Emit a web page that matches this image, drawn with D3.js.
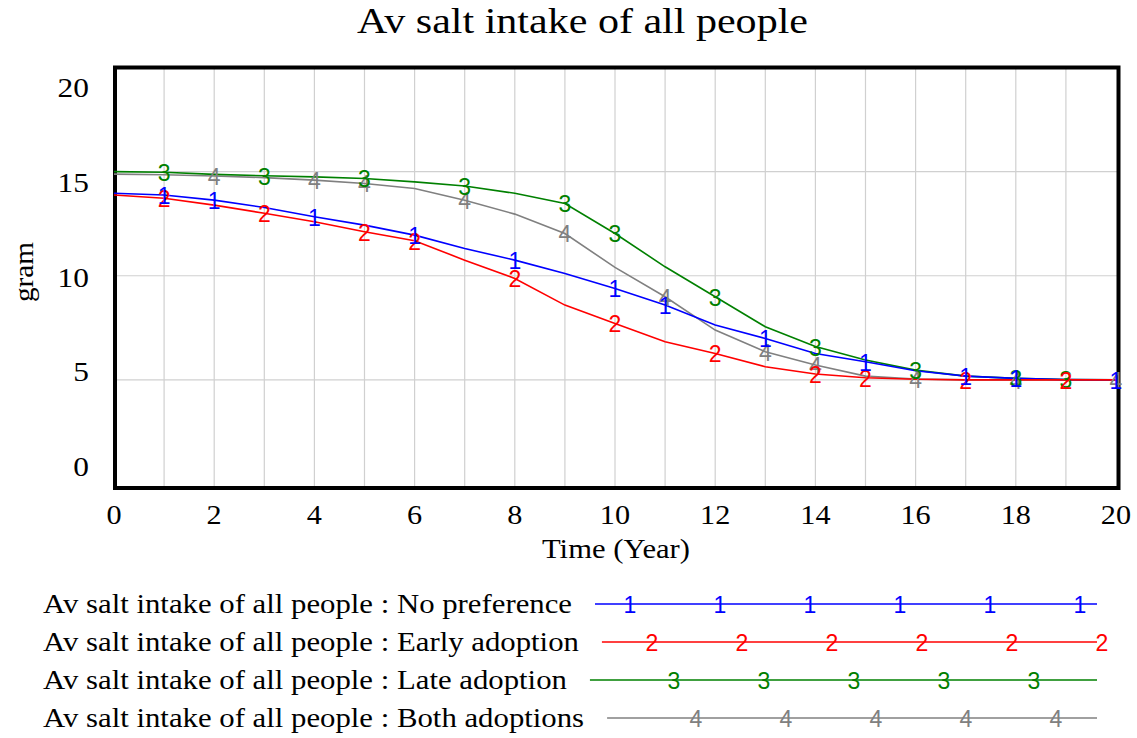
<!DOCTYPE html>
<head>
    <meta charset="utf-8">
    <script src="https://d3js.org/d3.v7.min.js"></script>
    <style>
        body { margin: 0; background: #fff; }
        .serif { font-family: "Liberation Serif", "Times New Roman", Times, serif; fill: #000; }
        .mark { font-family: "Liberation Sans", Arial, sans-serif; }
    </style>
</head>
<body>
    <svg></svg>
    <script>
        // simulated years and the four runs (gram)
        var years = [0, 1, 2, 3, 4, 5, 6, 7, 8, 9, 10, 11, 12, 13, 14, 15, 16, 17, 18, 19, 20];
        var noPreference = [13.96, 13.88, 13.63, 13.28, 12.83, 12.43, 11.95, 11.31, 10.75, 10.11, 9.39,
                            8.59, 7.63, 6.99, 6.27, 5.87, 5.44, 5.18, 5.07, 5.01, 5.0];
        var earlyAdoption = [13.88, 13.72, 13.39, 13.0, 12.59, 12.11, 11.68, 10.75, 9.87, 8.59, 7.71,
                             6.83, 6.27, 5.63, 5.28, 5.1, 5.03, 5.0, 5.0, 5.0, 5.0];
        var lateAdoption = [15.0, 14.97, 14.87, 14.8, 14.75, 14.67, 14.51, 14.31, 13.96, 13.47, 12.03,
                            10.43, 8.99, 7.55, 6.6, 5.95, 5.47, 5.18, 5.07, 5.02, 5.0];
        var bothAdoptions = [14.88, 14.85, 14.79, 14.71, 14.59, 14.43, 14.19, 13.63, 12.96, 12.03, 10.4,
                             8.99, 7.39, 6.35, 5.71, 5.18, 5.04, 5.0, 5.0, 5.0, 5.0];

        // years where the run number is written on the line
        var marksNoPreference = [1, 2, 4, 6, 8, 10, 11, 13, 15, 17, 18, 20];
        var marksEarly = [1, 3, 5, 6, 8, 10, 12, 14, 15, 17, 19];
        var marksLate = [1, 3, 5, 7, 9, 10, 12, 14, 16, 18, 19];
        var marksBoth = [2, 4, 5, 7, 9, 11, 13, 14, 16, 18, 20];

        var runNames = ["No preference", "Early adoption", "Late adoption", "Both adoptions"];
        var runColors = ["#0000ff", "#ff0000", "#008000", "#808080"];
        var xTicks = [0, 2, 4, 6, 8, 10, 12, 14, 16, 18, 20];
        var yTicks = [0, 5, 10, 15, 20];
        var varName = "Av salt intake of all people";

        var runs = [
            { id: 1, name: runNames[0], color: runColors[0], values: noPreference, marks: marksNoPreference },
            { id: 2, name: runNames[1], color: runColors[1], values: earlyAdoption, marks: marksEarly },
            { id: 3, name: runNames[2], color: runColors[2], values: lateAdoption, marks: marksLate },
            { id: 4, name: runNames[3], color: runColors[3], values: bothAdoptions, marks: marksBoth }
        ];

        var width = 1137, height = 738;

        var svg = d3.select("svg")
            .attr("width", width)
            .attr("height", height);

        // vensim draws its times font a little wider than the browser does
        function stretch(sel, k) {
            sel.each(function () {
                var w = this.getComputedTextLength();
                d3.select(this).attr("textLength", w * k).attr("lengthAdjust", "spacingAndGlyphs");
            });
        }
        function stretchTo(sel, target) {
            var k = target / sel.node().getComputedTextLength();
            stretch(sel, k);
        }

        var x = d3.scaleLinear().domain([0, 20]).range([114, 1116]);
        var y = d3.scaleLinear().domain([0, 20]).range([484, 67.5]);
        // tick numbers sit on their own, slightly squeezed, scale
        var yLabel = d3.scaleLinear().domain([0, 20]).range([476, 97]);

        // grid
        svg.append("g").selectAll("line")
            .data(d3.range(1, 20))
            .enter().append("line")
            .attr("x1", d => x(d)).attr("x2", d => x(d))
            .attr("y1", y(20)).attr("y2", 488)
            .attr("stroke", "#d0d0d0").attr("stroke-width", 1.2);
        svg.append("g").selectAll("line")
            .data([5, 10, 15])
            .enter().append("line")
            .attr("x1", 115).attr("x2", 1118)
            .attr("y1", d => y(d)).attr("y2", d => y(d))
            .attr("stroke", "#d0d0d0").attr("stroke-width", 1.2);

        // frame
        svg.append("rect")
            .attr("x", 115).attr("y", 67.5)
            .attr("width", 1003.5).attr("height", 420.5)
            .attr("fill", "none").attr("stroke", "#000").attr("stroke-width", 4);

        // tick labels
        svg.append("g").selectAll("text")
            .data(xTicks)
            .enter().append("text")
            .attr("class", "serif")
            .attr("x", d => x(d)).attr("y", 524)
            .attr("text-anchor", "middle")
            .style("font-size", "28px")
            .text(d => d)
            .call(stretch, 1.08);
        svg.append("g").selectAll("text")
            .data(yTicks)
            .enter().append("text")
            .attr("class", "serif")
            .attr("x", 89).attr("y", d => yLabel(d))
            .attr("text-anchor", "end")
            .style("font-size", "28px")
            .text(d => d)
            .call(stretch, 1.12);

        // titles
        svg.append("text")
            .attr("class", "serif")
            .attr("x", 582.5).attr("y", 33)
            .attr("text-anchor", "middle")
            .style("font-size", "35px")
            .text(varName)
            .call(stretchTo, 451);
        svg.append("text")
            .attr("class", "serif")
            .attr("x", 616).attr("y", 558)
            .attr("text-anchor", "middle")
            .style("font-size", "27px")
            .text("Time (Year)")
            .call(stretchTo, 148);
        svg.append("text")
            .attr("class", "serif")
            .attr("transform", "translate(33,272) rotate(-90)")
            .attr("text-anchor", "middle")
            .style("font-size", "28px")
            .text("gram")
            .call(stretchTo, 60);

        // lines, drawn so that red ends up on top
        var line = d3.line()
            .x((d, i) => x(years[i]))
            .y(d => y(d));
        var drawOrder = [runs[3], runs[2], runs[0], runs[1]];
        svg.append("g").selectAll("path")
            .data(drawOrder)
            .enter().append("path")
            .attr("d", d => line(d.values))
            .attr("fill", "none")
            .attr("stroke", d => d.color)
            .attr("stroke-width", 1.6);

        // run numbers on the lines
        var markGroups = svg.append("g").selectAll("g")
            .data([runs[3], runs[2], runs[1], runs[0]])
            .enter().append("g");
        markGroups.selectAll("text")
            .data(r => r.marks.map(t => ({ t: t, v: r.values[years.indexOf(t)], id: r.id, color: r.color })))
            .enter().append("text")
            .attr("class", "mark")
            .attr("x", d => x(d.t))
            .attr("y", d => y(d.v) + 9)
            .attr("text-anchor", "middle")
            .style("font-size", "23px")
            .attr("fill", d => d.color)
            .text(d => d.id);

        // legend
        var rowY = [604, 642, 680, 718];
        var legend = svg.append("g").selectAll("g")
            .data(runs)
            .enter().append("g");
        var labels = legend.append("text")
            .attr("class", "serif")
            .attr("x", 43).attr("y", (d, i) => rowY[i] + 9)
            .style("font-size", "28px")
            .text(d => varName + " : " + d.name);
        // the first row is 529px wide in the original, the others follow suit
        var kLegend = 529 / labels.node().getComputedTextLength();
        labels.call(stretch, kLegend);
        legend.each(function (d, i) {
            var g = d3.select(this);
            var textEnd = 43 + (+g.select("text").attr("textLength"));
            g.append("line")
                .attr("x1", textEnd + 23).attr("x2", 1097)
                .attr("y1", rowY[i]).attr("y2", rowY[i])
                .attr("stroke", d.color).attr("stroke-width", 1.6);
            var pos = [];
            for (var p = 630 + 22 * i; p <= 1102; p += 90) pos.push(p);
            g.selectAll("text.mark")
                .data(pos)
                .enter().append("text")
                .attr("class", "mark")
                .attr("x", p => p).attr("y", rowY[i] + 9)
                .attr("text-anchor", "middle")
                .style("font-size", "23px")
                .attr("fill", d.color)
                .text(d.id);
        });
    </script>
</body>
